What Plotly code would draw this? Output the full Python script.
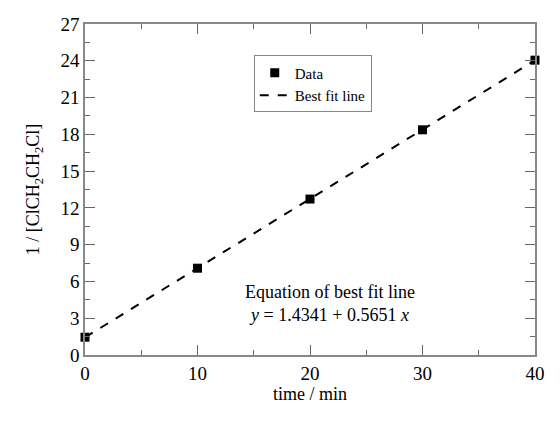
import plotly.graph_objects as go

time_min = [0, 10, 20, 30, 40]
inv_conc = [1.45, 7.08, 12.72, 18.37, 24.05]
fit_intercept = 1.4341
fit_slope = 0.5651
fit_x = [0, 40]
fit_y = [fit_intercept + fit_slope * x for x in fit_x]

FONT = "Liberation Serif"

fig = go.Figure()
fig.add_trace(go.Scatter(
    x=time_min, y=inv_conc, mode="markers", name="Data",
    marker=dict(symbol="square", size=9, color="black"),
    cliponaxis=False,
))
fig.add_trace(go.Scatter(
    x=fit_x, y=fit_y, mode="lines", name="Best fit line",
    line=dict(color="black", width=2, dash="dash"),
    cliponaxis=False,
))

axis_common = dict(
    showgrid=False, zeroline=False, showline=True, linecolor="#888888", linewidth=1.5,
    mirror="ticks", ticks="inside", ticklen=10, tickwidth=1.2, tickcolor="#666666",
    tickfont=dict(family=FONT, size=19, color="black"),
    title_font=dict(family=FONT, size=18, color="black"),
)

fig.update_xaxes(
    range=[0, 40], tickvals=[0, 10, 20, 30, 40],
    minor=dict(ticks="inside", ticklen=5, tickwidth=1.2, tickcolor="#666666", dtick=5, tick0=0),
    title_text="time / min", title_standoff=4,
    **axis_common,
)
fig.update_yaxes(
    range=[0, 27], tickvals=[0, 3, 6, 9, 12, 15, 18, 21, 24, 27],
    minor=dict(ticks="inside", ticklen=5, tickwidth=1.2, tickcolor="#666666", dtick=1.5, tick0=0),
    title_text="1 / [ClCH<sub>2</sub>CH<sub>2</sub>Cl]", title_standoff=16,
    **axis_common,
)

fig.add_annotation(
    x=21.8, y=4.2, xref="x", yref="y", showarrow=False,
    text="Equation of best fit line<br><i>y</i> = 1.4341 + 0.5651 <i>x</i>",
    font=dict(family=FONT, size=18, color="black"), align="center",
)

fig.update_layout(
    width=560, height=427,
    margin=dict(l=85, r=25, t=24, b=72),
    paper_bgcolor="white", plot_bgcolor="white",
    showlegend=True,
    legend=dict(
        x=0.375, y=0.905, xanchor="left", yanchor="top",
        bgcolor="white", bordercolor="#888888", borderwidth=1,
        font=dict(family=FONT, size=15, color="black"),
        tracegroupgap=0, itemwidth=30,
    ),
    font=dict(family=FONT, color="black"),
)

fig.write_html("out.html")
